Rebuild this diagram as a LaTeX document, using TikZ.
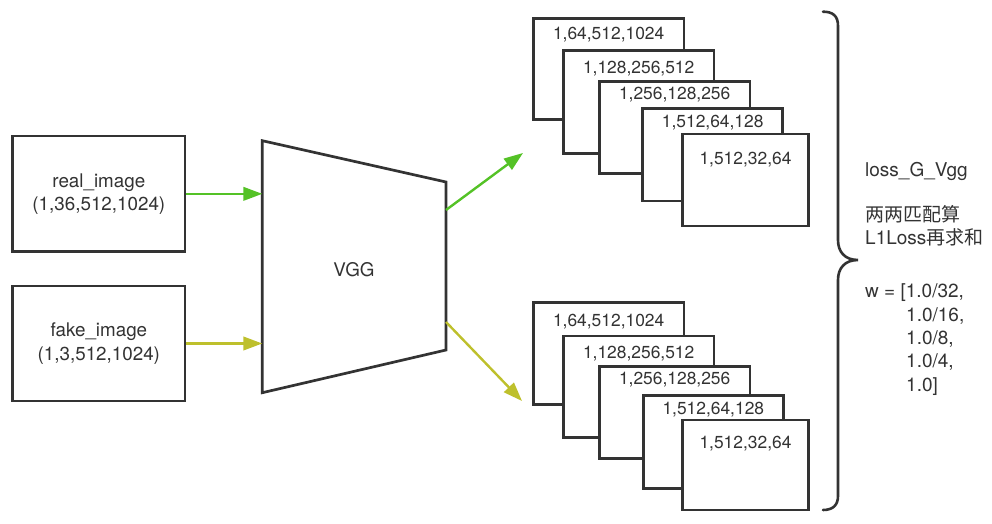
\documentclass[tikz,border=0pt]{standalone}
\usepackage{fontspec}
\setmainfont{TeX Gyre Heros}
\newfontfamily\cjk{Noto Sans CJK SC}
\usetikzlibrary{arrows.meta}
\definecolor{ink}{HTML}{333333}
\definecolor{grn}{RGB}{84,194,38}
\definecolor{ylw}{RGB}{190,192,44}
\tikzset{
  box/.style={draw=ink,line width=2.7pt,fill=white,rectangle,inner sep=0pt},
  lbl/.style={text=ink,font=\fontsize{18.8}{23.4}\selectfont,align=center},
  slbl/.style={text=ink,font=\fontsize{17.4}{20}\selectfont,inner sep=0pt},
  rlbl/.style={text=ink,font=\fontsize{19}{23.3}\selectfont,anchor=west,inner sep=0pt,text height=13.5pt,text depth=4.5pt},
  garrow/.style={draw=grn,line width=2.4pt,-{Triangle[length=19pt,width=13.5pt]}},
  yarrow/.style={draw=ylw,line width=2.4pt,-{Triangle[length=19pt,width=13.5pt]}},
}
\begin{document}
\begin{tikzpicture}[x=1pt,y=-1pt]
\useasboundingbox (0,0) rectangle (992,524);
% input boxes
\node[box,lbl,minimum width=172.3pt,minimum height=115.7pt] (real) at (98.85,193.85) {real\_image\\(1,36,512,1024)};
\node[box,lbl,minimum width=172.3pt,minimum height=115pt] (fake) at (98.85,343.5) {fake\_image\\(1,3,512,1024)};
% VGG trapezoid
\coordinate (t1) at (262.3,140.7);
\coordinate (t2) at (446,182);
\coordinate (t3) at (446,350);
\coordinate (t4) at (262.3,392.7);
\draw[ink,line width=2.7pt,line join=miter] (t1) -- (t2) -- (t3) -- (t4) -- cycle;
\node[lbl] (vgg) at (354,270) {VGG};
% input arrows
\draw[garrow] (real.east) -- (real.east -| t1);
\draw[yarrow] (fake.east) -- (fake.east -| t1);
% output arrows
\coordinate (go) at (446,210);
\coordinate (gt) at (523,153);
\coordinate (yo) at (446,322);
\coordinate (yt) at (522,401);
\draw[garrow] (go) -- (gt);
\draw[yarrow] (yo) -- (yt);
% top stack
\node[box,minimum width=150.7pt,minimum height=101pt] (ta) at (608.65,68.8) {};
\node[slbl] (tal) at (608.65,35) {1,64,512,1024};
\node[box,minimum width=150.7pt,minimum height=102.6pt] (tb) at (638.65,102) {};
\node[slbl] (tbl) at (638.65,68.3) {1,128,256,512};
\node[box,minimum width=150.7pt,minimum height=92pt] (tc) at (674.65,127.3) {};
\node[slbl] (tcl) at (674.65,95) {1,256,128,256};
\node[box,minimum width=140pt,minimum height=92.7pt] (td) at (712.7,154.65) {};
\node[slbl] (tdl) at (712.7,122.7) {1,512,64,128};
\node[box,minimum width=125.6pt,minimum height=92pt] (te) at (745.5,180) {};
\node[slbl] (tel) at (745.5,159.3) {1,512,32,64};
% bottom stack
\node[box,minimum width=150.7pt,minimum height=101.6pt] (ba) at (608.65,353.5) {};
\node[slbl] (bal) at (608.65,321.7) {1,64,512,1024};
\node[box,minimum width=150.7pt,minimum height=101.3pt] (bb) at (638.65,386.65) {};
\node[slbl] (bbl) at (638.65,354) {1,128,256,512};
\node[box,minimum width=150.7pt,minimum height=91.6pt] (bc) at (674.65,412.5) {};
\node[slbl] (bcl) at (674.65,380) {1,256,128,256};
\node[box,minimum width=140pt,minimum height=93pt] (bd) at (713.3,441.8) {};
\node[slbl] (bdl) at (713.3,409.3) {1,512,64,128};
\node[box,minimum width=125.6pt,minimum height=90pt] (be) at (745.5,465) {};
\node[slbl] (bel) at (745.5,443.3) {1,512,32,64};
% brace
\draw[ink,line width=2.6pt,line cap=round]
  (823,11.7) .. controls (833,11.7) and (838,16) .. (838,26)
  -- (838,240) .. controls (838,252) and (845,260) .. (858,260)
  .. controls (845,260) and (838,268) .. (838,280)
  -- (838,496) .. controls (838,505) and (833,510) .. (823,510);
% right text
\node[rlbl] (r1) at (865,171.7) {loss\_G\_Vgg};
\node[rlbl] (r2) at (865,216.7) {\cjk 两两匹配算};
\node[rlbl] (r3) at (865,240) {L1Loss{\cjk 再求和}};
\node[rlbl] (r4) at (865,293.3) {w = [1.0/32,};
\node[rlbl] (r5) at (906,316.7) {1.0/16,};
\node[rlbl] (r6) at (906,340) {1.0/8,};
\node[rlbl] (r7) at (906,363.3) {1.0/4,};
\node[rlbl] (r8) at (906,386.7) {1.0]};
\end{tikzpicture}
\end{document}
